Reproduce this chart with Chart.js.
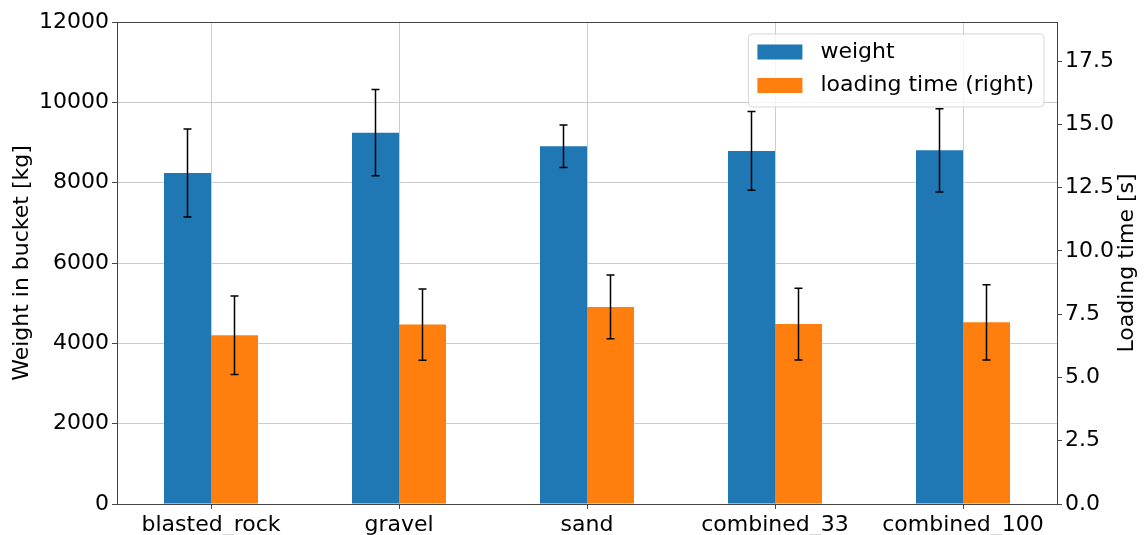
<!DOCTYPE html>
<html>
<head>
<meta charset="utf-8">
<script src="https://cdn.jsdelivr.net/npm/chart.js@4"></script>
<style>
    body { margin: 0; background: #fff; }
</style>
</head>
<body>
<canvas id="bucketChart" width="1145" height="535"></canvas>
<script>
// data
const materials = ['blasted_rock', 'gravel', 'sand', 'combined_33', 'combined_100'];
const weightMean = [8240, 9245, 8905, 8790, 8805];
const weightErr = [1095, 1075, 530, 980, 1035];
const loadTimeMean = [6.67, 7.09, 7.79, 7.11, 7.18];
const loadTimeErr = [1.55, 1.41, 1.26, 1.42, 1.49];

const leftTicks = [0, 2000, 4000, 6000, 8000, 10000, 12000];
const rightMax = 19.05;

const FONT = 'DejaVu Sans';
const SPINE = '#444444';
const GRID = '#cccccc';

// error bars, drawn through the scales
const errorBars = {
    id: 'errorBars',
    afterDatasetsDraw(chart) {
        const ctx = chart.ctx;
        const errs = [weightErr, loadTimeErr];
        ctx.save();
        ctx.strokeStyle = '#000';
        ctx.lineWidth = 1.5;
        chart.data.datasets.forEach((ds, i) => {
            const meta = chart.getDatasetMeta(i);
            const yScale = chart.scales[ds.yAxisID];
            meta.data.forEach((bar, j) => {
                const yTop = yScale.getPixelForValue(ds.data[j] + errs[i][j]);
                const yBot = yScale.getPixelForValue(ds.data[j] - errs[i][j]);
                ctx.beginPath();
                ctx.moveTo(bar.x, yTop);
                ctx.lineTo(bar.x, yBot);
                ctx.moveTo(bar.x - 4, yTop);
                ctx.lineTo(bar.x + 4, yTop);
                ctx.moveTo(bar.x - 4, yBot);
                ctx.lineTo(bar.x + 4, yBot);
                ctx.stroke();
            });
        });
        ctx.restore();
    }
};

// frame, right axis title and legend box inside the plot
const decorations = {
    id: 'decorations',
    afterDraw(chart) {
        const ctx = chart.ctx;
        const area = chart.chartArea;
        ctx.save();

        // box around the plot
        ctx.strokeStyle = SPINE;
        ctx.lineWidth = 1;
        ctx.strokeRect(area.left + 0.5, area.top + 0.5, area.right - area.left, area.bottom - area.top);

        // right axis title, reading bottom to top
        ctx.font = '22px "' + FONT + '"';
        ctx.fillStyle = '#000';
        ctx.textAlign = 'center';
        ctx.textBaseline = 'middle';
        ctx.translate(1127, (area.top + area.bottom) / 2);
        ctx.rotate(-Math.PI / 2);
        ctx.fillText('Loading time [s]', 0, 0);
        ctx.setTransform(1, 0, 0, 1, 0, 0);

        // legend
        const labels = chart.data.datasets.map(d => d.label);
        const colors = chart.data.datasets.map(d => d.backgroundColor);
        const textW = Math.max(...labels.map(l => ctx.measureText(l).width));
        const boxW = 72 + textW + 10;
        const boxH = 73;
        const boxX = area.right - 13 - boxW;
        const boxY = area.top + 12;
        ctx.beginPath();
        ctx.roundRect(boxX, boxY, boxW, boxH, 4);
        ctx.fillStyle = 'rgba(255,255,255,0.8)';
        ctx.fill();
        ctx.strokeStyle = 'rgba(204,204,204,0.8)';
        ctx.stroke();
        labels.forEach((l, i) => {
            const cy = boxY + 18 + i * 33.5;
            ctx.fillStyle = colors[i];
            ctx.fillRect(boxX + 9, cy - 7.5, 45, 15);
            ctx.fillStyle = '#000';
            ctx.textAlign = 'left';
            ctx.fillText(l, boxX + 72, cy);
        });
        ctx.restore();
    }
};

const ctx = document.getElementById('bucketChart').getContext('2d');
new Chart(ctx, {
    type: 'bar',
    data: {
        labels: materials,
        datasets: [
            {
                label: 'weight',
                data: weightMean,
                backgroundColor: '#1f77b4',
                yAxisID: 'y',
                categoryPercentage: 0.5,
                barPercentage: 1.0
            },
            {
                label: 'loading time (right)',
                data: loadTimeMean,
                backgroundColor: '#ff7f0e',
                yAxisID: 'y1',
                categoryPercentage: 0.5,
                barPercentage: 1.0
            }
        ]
    },
    options: {
        responsive: false,
        animation: false,
        layout: { padding: { top: 22, left: 0, right: 0, bottom: 0 } },
        plugins: {
            legend: { display: false },
            tooltip: { enabled: false }
        },
        scales: {
            x: {
                grid: { offset: false, color: GRID, tickColor: SPINE, tickLength: 5 },
                border: { color: SPINE },
                ticks: { color: '#000', font: { family: FONT, size: 22 }, padding: 3, maxRotation: 0 },
                afterFit(scale) { scale.height = 31; }
            },
            y: {
                position: 'left',
                min: leftTicks[0],
                max: leftTicks[leftTicks.length - 1],
                afterBuildTicks(scale) { scale.ticks = leftTicks.map(v => ({ value: v })); },
                grid: { color: GRID, tickColor: SPINE, tickLength: 5 },
                border: { color: SPINE },
                ticks: {
                    color: '#000',
                    font: { family: FONT, size: 22 },
                    padding: 3,
                    callback: v => String(v)
                },
                title: {
                    display: true,
                    text: 'Weight in bucket [kg]',
                    color: '#000',
                    font: { family: FONT, size: 22 },
                    padding: { top: 9, bottom: 0 }
                },
                afterFit(scale) { scale.width = 117; }
            },
            y1: {
                position: 'right',
                min: 0,
                max: rightMax,
                grid: { drawOnChartArea: false, tickColor: SPINE, tickLength: 5 },
                border: { color: SPINE },
                ticks: {
                    stepSize: 2.5,
                    includeBounds: false,
                    color: '#000',
                    font: { family: FONT, size: 22 },
                    padding: 3,
                    callback: v => v.toFixed(1)
                },
                afterFit(scale) { scale.width = 88; }
            }
        }
    },
    plugins: [errorBars, decorations]
});
</script>
</body>
</html>
